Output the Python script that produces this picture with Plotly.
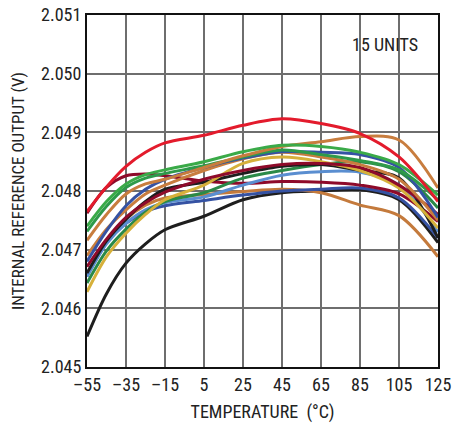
import plotly.graph_objects as go

temps = [-55, -45, -35, -25, -15, 5, 25, 45, 65, 85, 105, 125]

red = [2.04765, 2.04807, 2.04842, 2.04866, 2.04882, 2.04895, 2.04912, 2.04923, 2.04915, 2.04898, 2.04858, 2.04782]
maroon_a = [2.04762, 2.04806, 2.04826, 2.04829, 2.04826, 2.04817, 2.04813, 2.04816, 2.04815, 2.04810, 2.04795, 2.04748]
maroon_b = [2.04671, 2.04718, 2.04755, 2.04780, 2.04798, 2.04820, 2.04835, 2.04845, 2.04847, 2.04840, 2.04810, 2.04760]
light_green = [2.04740, 2.04782, 2.04812, 2.04828, 2.04836, 2.04850, 2.04867, 2.04878, 2.04876, 2.04866, 2.04845, 2.04793]
green_a = [2.04731, 2.04774, 2.04806, 2.04822, 2.04830, 2.04843, 2.04858, 2.04870, 2.04862, 2.04852, 2.04836, 2.04785]
orange_high = [2.04716, 2.04760, 2.04795, 2.04812, 2.04820, 2.04840, 2.04860, 2.04876, 2.04884, 2.04893, 2.04887, 2.04805]
orange_mid = [2.04690, 2.04735, 2.04768, 2.04795, 2.04810, 2.04835, 2.04855, 2.04866, 2.04858, 2.04845, 2.04820, 2.04750]
orange_low = [2.04655, 2.04712, 2.04752, 2.04776, 2.04788, 2.04794, 2.04799, 2.04803, 2.04797, 2.04776, 2.04758, 2.04688]
blue_a = [2.04680, 2.04732, 2.04775, 2.04803, 2.04820, 2.04840, 2.04856, 2.04867, 2.04866, 2.04862, 2.04840, 2.04755]
blue_b = [2.04655, 2.04712, 2.04745, 2.04765, 2.04775, 2.04784, 2.04793, 2.04800, 2.04803, 2.04805, 2.04788, 2.04720]
light_blue = [2.04654, 2.04710, 2.04745, 2.04768, 2.04780, 2.04790, 2.04810, 2.04827, 2.04833, 2.04832, 2.04810, 2.04730]
green_b = [2.04643, 2.04698, 2.04735, 2.04764, 2.04782, 2.04797, 2.04822, 2.04835, 2.04845, 2.04850, 2.04833, 2.04771]
yellow = [2.04628, 2.04688, 2.04728, 2.04760, 2.04785, 2.04810, 2.04847, 2.04858, 2.04850, 2.04835, 2.04805, 2.04737]
black_a = [2.04660, 2.04715, 2.04752, 2.04782, 2.04803, 2.04815, 2.04830, 2.04842, 2.04845, 2.04835, 2.04822, 2.04720]
black_low = [2.04552, 2.04625, 2.04677, 2.04710, 2.04734, 2.04757, 2.04785, 2.04797, 2.04800, 2.04802, 2.04785, 2.04712]

x_tick_vals = [-55, -35, -15, 5, 25, 45, 65, 85, 105, 125]
x_tick_text = ["–55", "–35", "–15", "5", "25", "45", "65", "85", "105", "125"]
y_tick_vals = [2.045, 2.046, 2.047, 2.048, 2.049, 2.050, 2.051]
y_tick_text = ["2.045", "2.046", "2.047", "2.048", "2.049", "2.050", "2.051"]

series = [
    (black_low, "#1e1e1e"),
    (orange_low, "#c47a3c"),
    (blue_b, "#3552a3"),
    (maroon_a, "#8e0a2a"),
    (light_blue, "#5a8ed0"),
    (green_b, "#2a8a48"),
    (black_a, "#1e1e1e"),
    (yellow, "#d6b03a"),
    (maroon_b, "#8e0a2a"),
    (orange_mid, "#c87d3e"),
    (blue_a, "#3552a3"),
    (green_a, "#2e9a4a"),
    (orange_high, "#c87d3e"),
    (light_green, "#3aaa48"),
    (red, "#e31b2c"),
]

FONT = "Liberation Sans Narrow, Roboto Condensed, Arial Narrow, Liberation Sans, sans-serif"

fig = go.Figure()
for vals, col in series:
    fig.add_trace(go.Scatter(x=temps, y=vals, mode="lines",
                             line=dict(color=col, width=3, shape="spline", smoothing=0.9),
                             showlegend=False, hoverinfo="skip"))

fig.add_annotation(x=0.95, y=0.915, xref="paper", yref="paper", text="15 UNITS",
                   showarrow=False, xanchor="right", yanchor="middle",
                   font=dict(family=FONT, size=18, color="#222"))

fig.update_layout(
    width=452, height=423,
    margin=dict(l=87, r=14, t=15, b=56),
    paper_bgcolor="white", plot_bgcolor="white",
    font=dict(family=FONT, size=18, color="#222"),
    xaxis=dict(range=[-55, 125], tickvals=x_tick_vals, ticktext=x_tick_text,
               showgrid=True, gridcolor="#6e6e6e", gridwidth=1.5,
               showline=True, linecolor="#111", linewidth=2, mirror=True,
               ticks="", zeroline=False, automargin=False, ticklabeloverflow="allow",
               tickfont=dict(family=FONT, size=18, color="#222"),
               title=dict(text="TEMPERATURE\u00a0\u00a0(°C)", standoff=12,
                          font=dict(family=FONT, size=18, color="#222"))),
    yaxis=dict(range=[2.045, 2.051], tickvals=y_tick_vals, ticktext=y_tick_text,
               showgrid=True, gridcolor="#6e6e6e", gridwidth=1.5,
               showline=True, linecolor="#111", linewidth=2, mirror=True,
               ticks="", zeroline=False, automargin=False, ticklabeloverflow="allow",
               tickfont=dict(family=FONT, size=18, color="#222"),
               title=dict(text="INTERNAL REFERENCE OUTPUT (V)", standoff=12,
                          font=dict(family=FONT, size=17, color="#222"))),
)

fig.write_html("out.html", config={"displayModeBar": False},
               post_script="document.body.style.margin='0';document.body.style.overflow='hidden';")
